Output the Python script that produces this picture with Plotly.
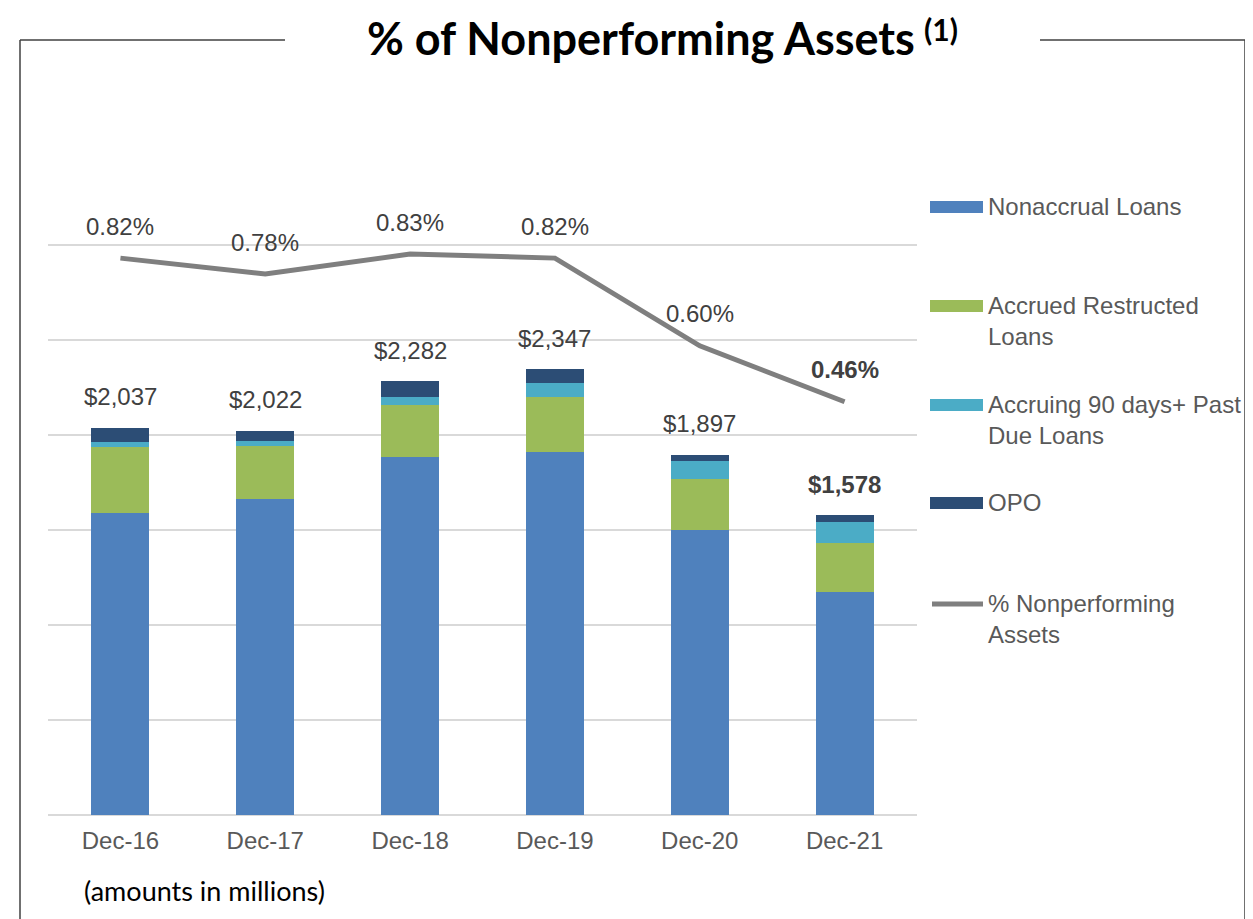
import plotly.graph_objects as go

categories = ["Dec-16", "Dec-17", "Dec-18", "Dec-19", "Dec-20", "Dec-21"]
nonaccrual = [1591, 1661, 1883, 1909, 1502, 1175]
accrued_restructured = [345, 283, 273, 293, 265, 255]
accruing_90 = [28, 24, 42, 72, 95, 111]
opo = [73, 54, 84, 73, 35, 37]
pct_npa = [0.82, 0.78, 0.83, 0.82, 0.60, 0.46]

series_names = ["Nonaccrual Loans", "Accrued Restructed<br>Loans",
                "Accruing 90 days+ Past<br>Due Loans", "OPO"]
line_name = "% Nonperforming<br>Assets"
colors = ["#4F81BD", "#9BBB59", "#4BACC6", "#2C4D75"]
line_color = "#7F7F7F"

OFF = 8  # page body margin
W, H = 1253 - OFF, 919 - OFF
L, R, T, B = 48 - OFF, 917 - OFF, 150 - OFF, 815 - OFF


def px(x):
    return (x - OFF - L) / (R - L)


def py(y):
    return (B - (y - OFF)) / (B - T)


LBL_FONT = "Liberation Sans, Arial"

fig = go.Figure()
for vals, name, col in zip([nonaccrual, accrued_restructured, accruing_90, opo], series_names, colors):
    fig.add_trace(go.Bar(x=categories, y=vals, name=name, marker=dict(color=col, line=dict(width=0)),
                         width=0.4, showlegend=False))

fig.add_trace(go.Scatter(x=categories, y=pct_npa, yaxis="y2", mode="lines", name=line_name,
                         line=dict(color=line_color, width=5), showlegend=False))

totals = [a + b + c + d for a, b, c, d in zip(nonaccrual, accrued_restructured, accruing_90, opo)]
last = len(categories) - 1
annotations = []
for i, (c, t) in enumerate(zip(categories, totals)):
    txt = "${:,}".format(t)
    if i == last:
        txt = "<b>" + txt + "</b>"
    annotations.append(dict(x=c, y=t, xref="x", yref="y", text=txt, showarrow=False,
                            yanchor="middle", yshift=31,
                            font=dict(family=LBL_FONT, size=24, color="#404040")))
for i, (c, p) in enumerate(zip(categories, pct_npa)):
    txt = "{:.2f}%".format(p)
    if i == last:
        txt = "<b>" + txt + "</b>"
    annotations.append(dict(x=c, y=p, xref="x", yref="y2", text=txt, showarrow=False,
                            yanchor="middle", yshift=32,
                            font=dict(family=LBL_FONT, size=24, color="#404040")))

# title
annotations.append(dict(x=px(641), y=py(38), xref="paper", yref="paper", xanchor="center", yanchor="middle",
                        text="<b>% of Nonperforming Assets</b>", showarrow=False,
                        font=dict(family="Lato", size=45, color="#000000")))
annotations.append(dict(x=px(922), y=py(29), xref="paper", yref="paper", xanchor="left", yanchor="middle",
                        text="<b>(1)</b>", showarrow=False,
                        font=dict(family="Lato", size=30, color="#000000")))
annotations.append(dict(x=px(82), y=py(890), xref="paper", yref="paper", xanchor="left", yanchor="middle",
                        text="(amounts in millions)", showarrow=False,
                        font=dict(family="Lato", size=27, color="#000000")))

shapes = []
# frame
frame = dict(type="line", xref="paper", yref="paper", line=dict(color="#404040", width=1.5))
shapes.append({**frame, "x0": px(20), "x1": px(20), "y0": py(40), "y1": py(930)})
shapes.append({**frame, "x0": px(20), "x1": px(285), "y0": py(40), "y1": py(40)})
shapes.append({**frame, "x0": px(1040), "x1": px(1245), "y0": py(40), "y1": py(40)})
shapes.append({**frame, "x0": px(1245), "x1": px(1245), "y0": py(40), "y1": py(930)})

# legend (manual)
leg_y = [206, 305, 404, 502]
for name, col, yy in zip(series_names, colors, leg_y):
    shapes.append(dict(type="rect", xref="paper", yref="paper", x0=px(930), x1=px(983),
                       y0=py(yy + 7), y1=py(yy - 5), fillcolor=col, line=dict(width=0)))
    annotations.append(dict(x=px(986), y=py(yy - 15), xref="paper", yref="paper", xanchor="left",
                            yanchor="top", align="left", text=name, showarrow=False,
                            font=dict(family=LBL_FONT, size=24, color="#595959")))
shapes.append(dict(type="line", xref="paper", yref="paper", x0=px(932), x1=px(983),
                   y0=py(604), y1=py(604), line=dict(color=line_color, width=5)))
annotations.append(dict(x=px(986), y=py(603 - 15), xref="paper", yref="paper", xanchor="left",
                        yanchor="top", align="left", text=line_name, showarrow=False,
                        font=dict(family=LBL_FONT, size=24, color="#595959")))

fig.update_layout(
    width=W, height=H,
    margin=dict(l=L, r=W - R, t=T, b=H - B, pad=0),
    barmode="stack",
    bargap=0.6,
    plot_bgcolor="white", paper_bgcolor="white",
    showlegend=False,
    xaxis=dict(showgrid=False, showline=False, ticks="", ticklabelstandoff=9,
               tickfont=dict(family=LBL_FONT, size=24, color="#595959")),
    yaxis=dict(range=[0, 3500], dtick=500, showgrid=True, gridcolor="#D9D9D9", gridwidth=1.5,
               zeroline=True, zerolinecolor="#D9D9D9", zerolinewidth=1.5,
               showticklabels=False, ticks="", showline=False),
    yaxis2=dict(range=[-0.576, 1.091], overlaying="y", visible=False, showgrid=False),
    annotations=annotations,
    shapes=shapes,
)

fig.write_html("out.html")
